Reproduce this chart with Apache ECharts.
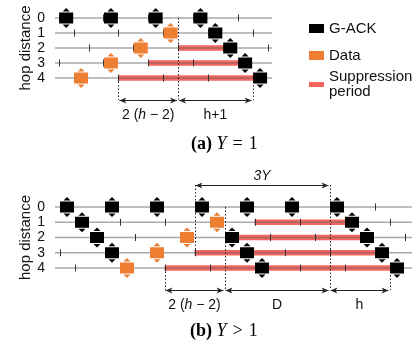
<!DOCTYPE html>
<html>
<head>
<meta charset="utf-8">
<script src="https://cdn.jsdelivr.net/npm/echarts@6/dist/echarts.min.js"></script>
<style>
  html, body { margin: 0; padding: 0; background: #fff; }
  #main { width: 412px; height: 348px; }
</style>
</head>
<body>
<div id="main"></div>
<script>
// x in hop-times, y in hop distance
var rows = [0, 1, 2, 3, 4];
var rowLabels = ['0', '1', '2', '3', '4'];

// (a) Y = 1
var gackA = [[0, 0], [3, 0], [6, 0], [9, 0], [10, 1], [11, 2], [12, 3], [13, 4]];
var dataA = [[7, 1], [5, 2], [3, 3], [1, 4]];
var suppA = [[7.5, 11, 2], [5.5, 12, 3], [3.5, 13, 4]];
var ticksA = [
  [-0.5, 0], [2.5, 0], [5.5, 0], [8.5, 0], [11.5, 0],
  [0.5, 1], [3.5, 1], [6.5, 1], [9.5, 1], [12.5, 1],
  [1.5, 2], [4.5, 2], [7.5, 2], [10.5, 2], [13.5, 2],
  [-0.5, 3], [2.5, 3], [5.5, 3], [8.5, 3], [11.5, 3],
  [0.5, 4], [3.5, 4], [6.5, 4], [9.5, 4], [12.5, 4]
];
var dotsA = [[3.5, 4, 5.45], [7.5, 0, 5.45], [12.5, 4, 5.45]];
var spansA = [[3.5, 7.5, 5.45], [7.5, 12.5, 5.45]];
var spanLabelsA = ['2 ({i|h} \u2212 2)', 'h+1'];

// (b) Y > 1
var gackB = [[0, 0], [3, 0], [6, 0], [9, 0], [12, 0], [15, 0], [18, 0],
  [1, 1], [19, 1], [2, 2], [11, 2], [20, 2], [3, 3], [12, 3], [21, 3], [13, 4], [22, 4]];
var dataB = [[10, 1], [8, 2], [6, 3], [4, 4]];
var suppB = [[12.5, 19, 1], [11, 20, 2], [8.5, 21, 3], [6.5, 22, 4]];
var ticksB = [
  [-0.5, 0], [2.5, 0], [5.5, 0], [8.5, 0], [11.5, 0], [14.5, 0], [17.5, 0], [20.5, 0],
  [0.5, 1], [3.5, 1], [6.5, 1], [9.5, 1], [12.5, 1], [15.5, 1], [18.5, 1], [21.5, 1],
  [1.5, 2], [4.5, 2], [7.5, 2], [10.5, 2], [13.5, 2], [16.5, 2], [19.5, 2], [22.5, 2],
  [-0.5, 3], [2.5, 3], [5.5, 3], [8.5, 3], [11.5, 3], [14.5, 3], [17.5, 3], [20.5, 3],
  [0.5, 4], [3.5, 4], [6.5, 4], [9.5, 4], [12.5, 4], [15.5, 4], [18.5, 4], [21.5, 4]
];
var dotsB = [[8.5, -1.44, 3], [6.5, 4, 5.44], [10.5, 0, 5.44], [17.5, -1.44, 5.44], [21.5, 4, 5.44]];
var spansB = [[6.5, 10.5, 5.44], [10.5, 17.5, 5.44], [17.5, 21.5, 5.44], [8.5, 17.5, -1.44]];
var spanLabelsB = ['2 ({i|h} \u2212 2)', 'D', 'h', '{i|3Y}'];
var spanAboveB = [false, false, false, true];

var BLACK = '#000', ORANGE = '#EE7E32', RED = '#F6665F';
var SANS = 'Liberation Sans, Arial, sans-serif';
var SERIF = 'Liberation Serif, Times New Roman, serif';

var myChart = echarts.init(document.getElementById('main'));

function markerItem(color) {
  return function (params, api) {
    var p = api.coord([api.value(0), api.value(1)]);
    var x = p[0], y = p[1];
    return {
      type: 'group',
      children: [
        { type: 'polygon', shape: { points: [[x - 3.5, y - 6.5], [x + 3.5, y - 6.5], [x, y - 10]] }, style: { fill: color } },
        { type: 'polygon', shape: { points: [[x - 3.5, y + 6.5], [x + 3.5, y + 6.5], [x, y + 10]] }, style: { fill: color } },
        { type: 'rect', shape: { x: x - 7, y: y - 5.5, width: 14, height: 11 }, style: { fill: color } }
      ]
    };
  };
}

function suppItem(params, api) {
  var a = api.coord([api.value(0), api.value(2)]);
  var b = api.coord([api.value(1), api.value(2)]);
  return { type: 'rect', shape: { x: a[0], y: a[1] - 2.75, width: b[0] - a[0], height: 5.5 }, style: { fill: RED } };
}

function rowItem(params, api) {
  var p = api.coord([0, api.value(0)]);
  var cs = params.coordSys;
  return { type: 'line', shape: { x1: cs.x, y1: p[1], x2: cs.x + cs.width, y2: p[1] },
    style: { stroke: 'rgba(100,100,100,0.55)', lineWidth: 1.5 } };
}

function tickItem(params, api) {
  var p = api.coord([api.value(0), api.value(1)]);
  var x = Math.round(p[0]) + 0.5;
  return { type: 'line', shape: { x1: x, y1: p[1] - 3.5, x2: x, y2: p[1] + 3.5 }, style: { stroke: '#333', lineWidth: 1 } };
}

function dotItem(params, api) {
  var a = api.coord([api.value(0), api.value(1)]);
  var b = api.coord([api.value(0), api.value(2)]);
  var x = Math.round(a[0]) + 0.5;
  return { type: 'line', shape: { x1: x, y1: a[1], x2: x, y2: b[1] },
    style: { stroke: '#222', lineWidth: 1, lineDash: [1.5, 2] } };
}

function spanItem(labels, above) {
  return function (params, api) {
    var a = api.coord([api.value(0), api.value(2)]);
    var b = api.coord([api.value(1), api.value(2)]);
    var y = Math.round(a[1]) + 0.5;
    var x1 = a[0] + 1, x2 = b[0] - 1;
    var up = above && above[params.dataIndex];
    return {
      type: 'group',
      children: [
        { type: 'line', shape: { x1: x1, y1: y, x2: x2, y2: y }, style: { stroke: '#222', lineWidth: 1 } },
        { type: 'polygon', shape: { points: [[x1, y], [x1 + 7, y - 3], [x1 + 5, y], [x1 + 7, y + 3]] }, style: { fill: '#222' } },
        { type: 'polygon', shape: { points: [[x2, y], [x2 - 7, y - 3], [x2 - 5, y], [x2 - 7, y + 3]] }, style: { fill: '#222' } },
        { type: 'text', x: (a[0] + b[0]) / 2, y: up ? y - 9 : y + 15,
          style: { text: labels[params.dataIndex], align: 'center', verticalAlign: 'middle',
            fontFamily: SANS, fontSize: 14, fill: '#111',
            rich: { i: { fontStyle: 'italic', fontFamily: SANS, fontSize: 14, fill: '#111' } } } }
      ]
    };
  };
}

function panelSeries(idx, gack, data, supp, ticks, dots, spans, labels, above) {
  var ax = { xAxisIndex: idx, yAxisIndex: idx, coordinateSystem: 'cartesian2d', type: 'custom', silent: true };
  return [
    Object.assign({ name: 'Suppression period', itemStyle: { color: RED }, renderItem: suppItem, data: supp }, ax),
    Object.assign({ name: 'rows', renderItem: rowItem, data: rows.map(function (r) { return [r]; }) }, ax),
    Object.assign({ name: 'ticks', renderItem: tickItem, data: ticks }, ax),
    Object.assign({ name: 'dots', renderItem: dotItem, data: dots }, ax),
    Object.assign({ name: 'spans', renderItem: spanItem(labels, above), data: spans }, ax),
    Object.assign({ name: 'Data', itemStyle: { color: ORANGE }, renderItem: markerItem(ORANGE), data: data }, ax),
    Object.assign({ name: 'G-ACK', itemStyle: { color: BLACK }, renderItem: markerItem(BLACK), data: gack }, ax)
  ];
}

function yAxisFor(idx) {
  return {
    gridIndex: idx, type: 'value', min: 0, max: 4, interval: 1, inverse: true,
    name: 'hop distance', nameLocation: 'middle', nameGap: 22, nameRotate: 90, nameMoveOverlap: false,
    nameTextStyle: { fontFamily: SANS, fontSize: 15, color: '#111' },
    axisLine: { show: false }, axisTick: { show: false }, splitLine: { show: false },
    axisLabel: { fontFamily: SANS, fontSize: 14, color: '#111', margin: 10,
      formatter: function (v) { return rowLabels[v]; } }
  };
}

var captionStyle = {
  fontFamily: SERIF, fontSize: 18, fontWeight: 'normal', color: '#000', lineHeight: 20,
  rich: {
    b: { fontFamily: SERIF, fontSize: 18, fontWeight: 'bold', color: '#000', lineHeight: 20 },
    i: { fontFamily: SERIF, fontSize: 18, fontStyle: 'italic', color: '#000', lineHeight: 20 }
  }
};

var option = {
  backgroundColor: '#fff',
  animation: false,
  title: [
    { text: '{b|(a)} {i|Y}\u2004=\u20041', left: 191, top: 134, padding: 0, textStyle: captionStyle },
    { text: '{b|(b)} {i|Y}\u2004>\u20041', left: 190, top: 321, padding: 0, textStyle: captionStyle }
  ],
  legend: [
    { orient: 'vertical', left: 304, top: 15.5, itemWidth: 15, itemHeight: 9, itemGap: 11,
      selectedMode: false, icon: 'rect', data: ['G-ACK', 'Data'],
      textStyle: { fontFamily: SANS, fontSize: 15, lineHeight: 16, color: '#111' } },
    { orient: 'vertical', left: 304, top: 60.5, itemWidth: 15, itemHeight: 5,
      selectedMode: false, icon: 'rect', data: ['Suppression period'],
      formatter: function () { return 'Suppression\nperiod'; },
      textStyle: { fontFamily: SANS, fontSize: 15, lineHeight: 15, color: '#111', padding: [8, 0, 0, 0] } }
  ],
  grid: [
    { left: 55, right: 140, top: 18, height: 60 },
    { left: 55, right: 0, top: 207, height: 61 }
  ],
  xAxis: [
    { gridIndex: 0, type: 'value', min: -0.75, max: 13.8, show: false },
    { gridIndex: 1, type: 'value', min: -0.8, max: 23, show: false }
  ],
  yAxis: [yAxisFor(0), yAxisFor(1)],
  series: panelSeries(0, gackA, dataA, suppA, ticksA, dotsA, spansA, spanLabelsA, null)
    .concat(panelSeries(1, gackB, dataB, suppB, ticksB, dotsB, spansB, spanLabelsB, spanAboveB))
};

myChart.setOption(option);
</script>
</body>
</html>
